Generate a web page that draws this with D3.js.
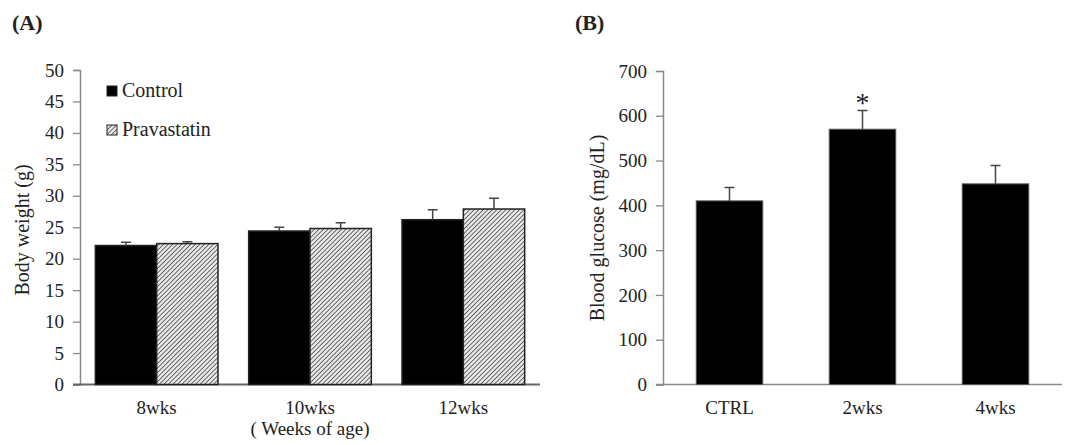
<!DOCTYPE html>
<html>
<head>
<meta charset="utf-8">
<script src="https://cdn.jsdelivr.net/npm/d3@7"></script>
<style>
  body { margin: 0; background: #fff; }
  svg text { font-family: "Liberation Serif", "Times New Roman", serif !important; fill: #222; }
</style>
</head>
<body>
<svg id="chart" width="1068" height="445" font-family="Liberation Serif, serif"></svg>
<script>
// Panel A: body weight
const weekGroups = ['8wks', '10wks', '12wks'];
const seriesNames = ['Control', 'Pravastatin'];
const controlWeight = [22.1, 24.4, 26.2];
const controlWeightErr = [0.5, 0.6, 1.6];
const pravaWeight = [22.4, 24.8, 27.9];
const pravaWeightErr = [0.3, 0.9, 1.7];
const weightTicks = [0, 5, 10, 15, 20, 25, 30, 35, 40, 45, 50];

// Panel B: blood glucose
const glucoseGroups = ['CTRL', '2wks', '4wks'];
const glucose = [410, 570, 448];
const glucoseErr = [30, 42, 41];
const glucoseStars = ['', '*', ''];
const glucoseTicks = [0, 100, 200, 300, 400, 500, 600, 700];

const serif = '"Liberation Serif", "Times New Roman", serif';
const svg = d3.select('#chart');
const axisColor = '#8a8a8a';
const errColor = '#444';

// hatch pattern for Pravastatin
const defs = svg.append('defs');
const pat = defs.append('pattern')
    .attr('id', 'hatch')
    .attr('patternUnits', 'userSpaceOnUse')
    .attr('width', 3.2).attr('height', 3.2)
    .attr('patternTransform', 'rotate(45)');
pat.append('rect').attr('width', 3.2).attr('height', 3.2).attr('fill', '#e6e6e6');
pat.append('line')
    .attr('x1', 0).attr('y1', 0).attr('x2', 0).attr('y2', 3.2)
    .attr('stroke', '#3a3a3a').attr('stroke-width', 1.4);

function drawYAxis(g, y, ticks, x0) {
    const ax = g.append('g')
        .attr('transform', `translate(${x0},0)`)
        .call(d3.axisLeft(y).tickValues(ticks).tickSize(7).tickPadding(9));
    ax.attr('font-family', serif);
    ax.select('.domain').attr('stroke', axisColor).attr('stroke-width', 1.5);
    ax.selectAll('.tick line').attr('stroke', axisColor).attr('stroke-width', 1.3);
    ax.selectAll('.tick text')
        .style('font-family', serif)
        .style('font-size', '19px')
        .attr('fill', '#222');
    return ax;
}

// ---------- Panel A ----------
const yA = d3.scaleLinear().domain([0, 50]).range([384.5, 70]);
const xA = d3.scaleBand().domain(weekGroups).range([80, 540]).paddingInner(0.2).paddingOuter(0.1);
const xInner = d3.scaleBand().domain(seriesNames).range([0, xA.bandwidth()]);

const gA = svg.append('g');
drawYAxis(gA, yA, weightTicks, 80);

// x axis baseline
const axA = gA.append('g')
    .attr('transform', `translate(0,${yA(0)})`)
    .call(d3.axisBottom(xA).tickSize(0).tickPadding(16));
axA.attr('font-family', serif);
axA.select('.domain').attr('stroke', '#666').attr('stroke-width', 1.8)
    .attr('d', `M73,0H540`);
axA.selectAll('.tick text').style('font-family', serif).style('font-size', '19px').attr('fill', '#222');

const seriesA = [
    { name: 'Control', vals: controlWeight, errs: controlWeightErr, fill: '#000' },
    { name: 'Pravastatin', vals: pravaWeight, errs: pravaWeightErr, fill: 'url(#hatch)' }
];

seriesA.forEach(s => {
    const bars = weekGroups.map((k, i) => ({ k, v: s.vals[i], e: s.errs[i] }));
    const grp = gA.append('g');
    grp.selectAll('rect')
        .data(bars)
        .enter()
        .append('rect')
        .attr('x', d => xA(d.k) + xInner(s.name))
        .attr('y', d => yA(d.v))
        .attr('width', xInner.bandwidth())
        .attr('height', d => yA(0) - yA(d.v))
        .attr('fill', s.fill)
        .attr('stroke', '#222')
        .attr('stroke-width', 1.5);
    grp.selectAll('path.err')
        .data(bars)
        .enter()
        .append('path')
        .attr('class', 'err')
        .attr('d', d => {
            const cx = xA(d.k) + xInner(s.name) + xInner.bandwidth() / 2;
            return `M${cx},${yA(d.v)}V${yA(d.v + d.e)}M${cx - 5},${yA(d.v + d.e)}H${cx + 5}`;
        })
        .attr('stroke', errColor)
        .attr('stroke-width', 1.5)
        .attr('fill', 'none');
});

// x title
gA.append('text')
    .attr('x', xA('10wks') + xA.bandwidth() / 2)
    .attr('y', 435)
    .attr('text-anchor', 'middle')
    .style('font-family', serif)
    .style('font-size', '19px')
    .text('( Weeks of age)');

// y title
gA.append('text')
    .attr('transform', 'translate(29,230) rotate(-90)')
    .attr('text-anchor', 'middle')
    .style('font-family', serif)
    .style('font-size', '20px')
    .text('Body weight (g)');

// legend
const legend = gA.append('g').attr('transform', 'translate(107,86)');
seriesA.forEach((s, i) => {
    const row = legend.append('g').attr('transform', `translate(0,${i * 39})`);
    row.append('rect')
        .attr('width', 10).attr('height', 10)
        .attr('fill', s.fill)
        .attr('stroke', '#222').attr('stroke-width', 1);
    row.append('text')
        .attr('x', 15).attr('y', 11)
        .style('font-family', serif)
        .style('font-size', '20px')
        .text(s.name);
});

gA.append('text')
    .attr('x', 12).attr('y', 30)
    .style('font-family', serif)
    .style('font-size', '22px')
    .style('font-weight', 'bold')
    .text('(A)');

// ---------- Panel B ----------
const yB = d3.scaleLinear().domain([0, 700]).range([384.5, 71]);
const xB = d3.scaleBand().domain(glucoseGroups).range([663, 1062]).paddingInner(0.5).paddingOuter(0.25);

const gB = svg.append('g');
drawYAxis(gB, yB, glucoseTicks, 663);

const axB = gB.append('g')
    .attr('transform', `translate(0,${yB(0)})`)
    .call(d3.axisBottom(xB).tickSize(0).tickPadding(16));
axB.attr('font-family', serif);
axB.select('.domain').attr('stroke', axisColor).attr('stroke-width', 1.5)
    .attr('d', `M656,0H1062`);
axB.selectAll('.tick text').style('font-family', serif).style('font-size', '19px').attr('fill', '#222');

const barsB = glucoseGroups.map((k, i) => ({ k, v: glucose[i], e: glucoseErr[i], star: glucoseStars[i] }));

gB.selectAll('rect.bar')
    .data(barsB)
    .enter()
    .append('rect')
    .attr('class', 'bar')
    .attr('x', d => xB(d.k))
    .attr('y', d => yB(d.v))
    .attr('width', xB.bandwidth())
    .attr('height', d => yB(0) - yB(d.v))
    .attr('fill', '#000')
    .attr('stroke', '#555')
    .attr('stroke-width', 1);

gB.selectAll('path.err')
    .data(barsB)
    .enter()
    .append('path')
    .attr('class', 'err')
    .attr('d', d => {
        const cx = xB(d.k) + xB.bandwidth() / 2;
        return `M${cx},${yB(d.v)}V${yB(d.v + d.e)}M${cx - 5},${yB(d.v + d.e)}H${cx + 5}`;
    })
    .attr('stroke', errColor)
    .attr('stroke-width', 1.5)
    .attr('fill', 'none');

gB.selectAll('text.star')
    .data(barsB.filter(d => d.star))
    .enter()
    .append('text')
    .attr('class', 'star')
    .attr('x', d => xB(d.k) + xB.bandwidth() / 2)
    .attr('y', d => yB(d.v + d.e) + 2)
    .attr('text-anchor', 'middle')
    .style('font-family', serif)
    .style('font-size', '28px')
    .text(d => d.star);

gB.append('text')
    .attr('transform', 'translate(604,228) rotate(-90)')
    .attr('text-anchor', 'middle')
    .style('font-family', serif)
    .style('font-size', '20px')
    .text('Blood glucose (mg/dL)');

gB.append('text')
    .attr('x', 575).attr('y', 30)
    .style('font-family', serif)
    .style('font-size', '22px')
    .style('font-weight', 'bold')
    .text('(B)');
</script>
</body>
</html>
